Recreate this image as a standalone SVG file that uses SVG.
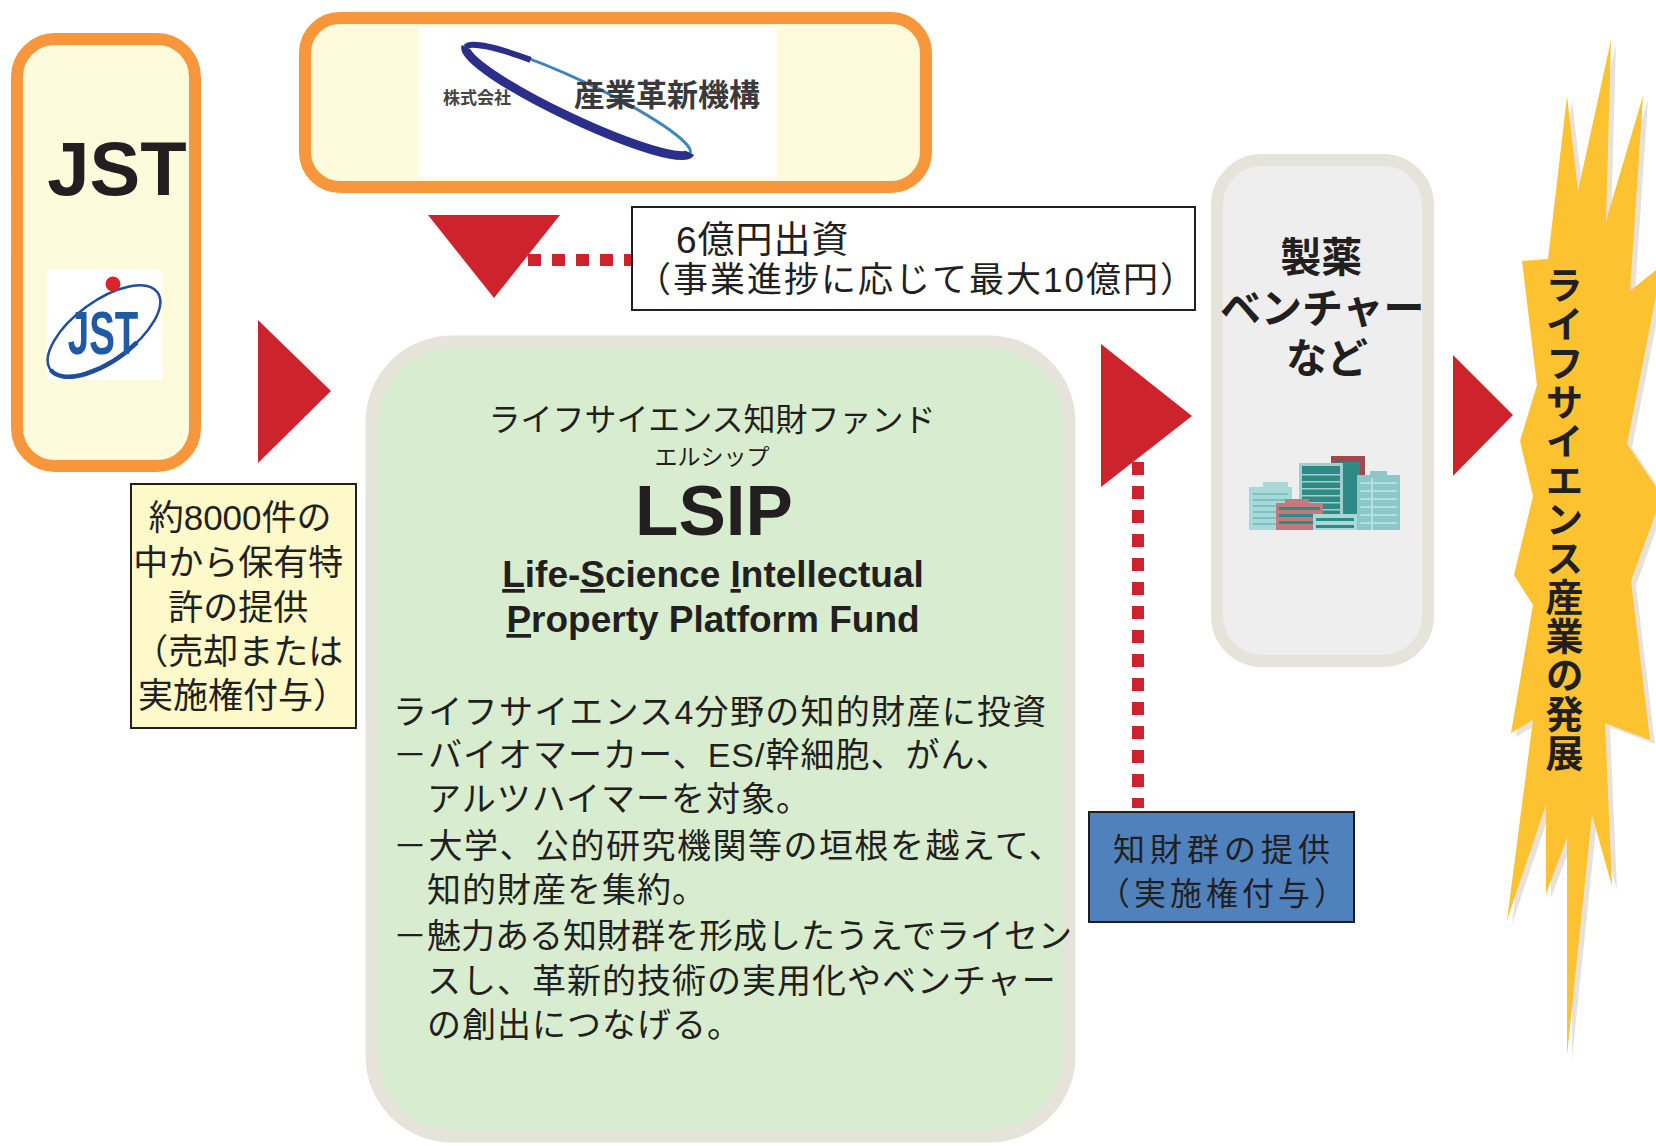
<svg xmlns="http://www.w3.org/2000/svg" width="1656" height="1146" viewBox="0 0 1656 1146">
<defs>
<style>
.jp{font-family:"Liberation Sans","Noto Sans CJK JP",sans-serif;fill:#231f20}
.en{font-family:"Liberation Sans",Arial,sans-serif;fill:#231f20}
.b{font-weight:700}
.mid{text-anchor:middle}
.arrow{fill:#cc232c}
.dots{stroke:#cc232c;stroke-width:12;stroke-dasharray:13 11;fill:none}
.org{fill:#fdfbdb;stroke:#f7963b;stroke-width:12}
.u{text-decoration:underline}
</style>
</defs>
<rect width="1656" height="1146" fill="#ffffff"/>

<!-- connectors: solid red arrowheads and dotted leader lines -->
<g id="connectors">
  <polygon class="arrow" points="258,320 258,463 331,391"/>
  <polygon class="arrow" points="428,215 560,215 494,298"/>
  <line class="dots" x1="528" y1="260" x2="632" y2="260"/>
  <line class="dots" x1="1138" y1="462" x2="1138" y2="808"/>
  <polygon class="arrow" points="1101,344 1101,487 1192,416"/>
  <polygon class="arrow" points="1453,355 1453,476 1513,415"/>
</g>

<!-- JST -->
<g id="jst">
  <rect class="org" x="17" y="39" width="178" height="427" rx="38"/>
  <text class="en b mid" x="117" y="195" font-size="76">JST</text>
  <g id="jst-logo">
    <rect x="47" y="270" width="115" height="110" fill="#ffffff"/>
    <ellipse cx="104" cy="331" rx="66" ry="30" transform="rotate(-36 104 331)" fill="none" stroke="#1f4e9c" stroke-width="2.5"/>
    <path d="M-66 0 A66 30 0 0 0 20 28.6" transform="translate(104 331) rotate(-36)" fill="none" stroke="#1f4e9c" stroke-width="4.5"/>
    <text class="b mid" transform="translate(103 354) scale(0.62 1)" font-family="Liberation Sans,Arial,sans-serif" font-size="62" fill="#1f5aa6">JST</text>
    <circle cx="113" cy="284" r="7.5" fill="#d7262e"/>
  </g>
</g>

<!-- Innovation Network Corporation of Japan -->
<g id="incj">
  <rect class="org" x="305" y="18" width="621" height="169" rx="35"/>
  <rect x="419" y="28" width="358" height="149" fill="#ffffff"/>
  <g transform="translate(578 100) rotate(25.3)">
    <ellipse cx="0" cy="0" rx="124" ry="19" fill="none" stroke="#3f86b8" stroke-width="3"/>
    <path d="M-124 0 A124 19 0 0 0 124 0" fill="none" stroke="#2b2f8a" stroke-width="9"/>
    <path d="M-124 0 A124 19 0 0 1 -60 -16" fill="none" stroke="#2b2f8a" stroke-width="6"/>
  </g>
  <text class="jp b" x="443" y="104" font-size="17" style="fill:#444444">株式会社</text>
  <text class="jp b" x="574" y="106" font-size="31" style="fill:#3a3a3a">産業革新機構</text>
</g>

<!-- investment note -->
<g id="investment">
  <rect x="632" y="207" width="563" height="103" fill="#ffffff" stroke="#231f20" stroke-width="2"/>
  <text class="jp" x="676" y="253" font-size="37" letter-spacing="1">6億円出資</text>
  <text class="jp" x="636" y="292" font-size="35" letter-spacing="2">（事業進捗に応じて最大10億円）</text>
</g>

<!-- patents offered by JST -->
<g id="patents">
  <rect x="131" y="484" width="225" height="244" fill="#fdf9c8" stroke="#231f20" stroke-width="2"/>
  <text class="jp mid" font-size="35">
    <tspan x="245" y="530">約8000件の</tspan>
    <tspan x="243" y="575">中から保有特</tspan>
    <tspan x="243" y="620">許の提供</tspan>
    <tspan x="243" y="664">（売却または</tspan>
    <tspan x="243" y="708">実施権付与）</tspan>
  </text>
</g>

<!-- LSIP fund -->
<g id="lsip">
  <rect x="372" y="342" width="697" height="794" rx="80" fill="#d8edcf" stroke="#e6e3da" stroke-width="13"/>
  <text class="jp mid" x="712" y="431" font-size="32">ライフサイエンス知財ファンド</text>
  <text class="jp mid" x="712" y="465" font-size="23">エルシップ</text>
  <text class="en b mid" x="714" y="535" font-size="71">LSIP</text>
  <text class="en b mid" x="713" y="587" font-size="37"><tspan class="u">L</tspan>ife-<tspan class="u">S</tspan>cience <tspan class="u">I</tspan>ntellectual</text>
  <text class="en b mid" x="713" y="632" font-size="37"><tspan class="u">P</tspan>roperty Platform Fund</text>
  <text class="jp" font-size="34">
    <tspan x="393" y="724" letter-spacing="1.3">ライフサイエンス4分野の知的財産に投資</tspan>
    <tspan x="393" y="767" letter-spacing="1">－バイオマーカー、ES/幹細胞、がん、</tspan>
    <tspan x="427" y="811" letter-spacing="1">アルツハイマーを対象。</tspan>
    <tspan x="393" y="858" letter-spacing="1.5">－大学、公的研究機関等の垣根を越えて、</tspan>
    <tspan x="427" y="902" letter-spacing="1">知的財産を集約。</tspan>
    <tspan x="393" y="948" letter-spacing="0">－魅力ある知財群を形成したうえでライセン</tspan>
    <tspan x="427" y="993" letter-spacing="1">スし、革新的技術の実用化やベンチャー</tspan>
    <tspan x="427" y="1037" letter-spacing="1">の創出につなげる。</tspan>
  </text>
</g>

<!-- licence provision label -->
<g id="licence">
  <rect x="1089" y="812" width="265" height="110" fill="#4f81bd" stroke="#1f1f1f" stroke-width="2"/>
  <text class="jp mid" x="1224" y="861" font-size="32" letter-spacing="5">知財群の提供</text>
  <text class="jp mid" x="1224" y="905" font-size="32" letter-spacing="4">（実施権付与）</text>
</g>

<!-- pharma / ventures -->
<g id="ventures">
  <rect x="1217" y="160" width="211" height="501" rx="45" fill="#eeeeee" stroke="#e6e3da" stroke-width="12"/>
  <text class="jp b mid" font-size="41">
    <tspan x="1327" y="272">製薬</tspan>
    <tspan x="1328" y="323">ベンチャー</tspan>
    <tspan x="1327" y="373">など</tspan>
  </text>
  <g id="buildings">
    <rect x="1331" y="456" width="34" height="62" fill="#a04850"/>
    <rect x="1336" y="462" width="24" height="56" fill="#2e8a85"/>
    <rect x="1263" y="482" width="25" height="6" fill="#a8d8d8"/>
    <rect x="1249" y="487" width="43" height="43" fill="#a8d8d8"/>
    <g fill="#7fc0c0">
      <rect x="1253" y="493" width="35" height="2"/>
      <rect x="1253" y="499" width="35" height="2"/>
      <rect x="1253" y="505" width="35" height="2"/>
      <rect x="1253" y="511" width="35" height="2"/>
      <rect x="1253" y="517" width="35" height="2"/>
      <rect x="1253" y="523" width="35" height="2"/>
    </g>
    <rect x="1299" y="463" width="44" height="67" fill="#9fd0cf"/>
    <rect x="1302" y="466" width="38" height="64" fill="#2e8a85"/>
    <g fill="#9fd0cf">
      <rect x="1302" y="474" width="38" height="1.5"/>
      <rect x="1302" y="481" width="38" height="1.5"/>
      <rect x="1302" y="488" width="38" height="1.5"/>
      <rect x="1302" y="495" width="38" height="1.5"/>
      <rect x="1302" y="502" width="38" height="1.5"/>
      <rect x="1302" y="509" width="38" height="1.5"/>
    </g>
    <rect x="1285" y="499" width="24" height="5" fill="#c07a80"/>
    <rect x="1276" y="503" width="47" height="27" fill="#c07a80"/>
    <g fill="#2e8a85">
      <rect x="1279" y="507" width="41" height="3"/>
      <rect x="1279" y="514" width="41" height="3"/>
      <rect x="1279" y="521" width="41" height="3"/>
    </g>
    <rect x="1370" y="471" width="17" height="5" fill="#8cc8c8"/>
    <rect x="1357" y="475" width="43" height="55" fill="#8cc8c8"/>
    <g fill="#b5dede">
      <rect x="1360" y="482" width="37" height="2"/>
      <rect x="1360" y="490" width="37" height="2"/>
      <rect x="1360" y="498" width="37" height="2"/>
      <rect x="1360" y="506" width="37" height="2"/>
      <rect x="1360" y="514" width="37" height="2"/>
      <rect x="1360" y="522" width="37" height="2"/>
      <rect x="1371" y="478" width="2" height="52"/>
    </g>
    <rect x="1313" y="514" width="44" height="16" fill="#a8d8d8"/>
    <g fill="#2e8a85">
      <rect x="1316" y="518" width="38" height="3"/>
      <rect x="1316" y="525" width="38" height="3"/>
    </g>
  </g>
</g>

<!-- outcome starburst -->
<g id="outcome">
  <polygon transform="translate(5 4)" fill="#e6e2d8" points="1522,261 1548,259 1567,96 1578,191 1611,40 1606,221 1643,96 1630,291 1662,265 1627,444 1662,496 1631,581 1650,740 1605,723 1612,886 1592,815 1567,1055 1567,838 1546,894 1546,805 1507,920 1533,720 1511,733 1533,605 1514,575 1533,496 1520,441 1537,385"/>
  <polygon fill="#fdc22f" points="1522,261 1548,259 1567,96 1578,191 1611,40 1606,221 1643,96 1630,291 1662,265 1627,444 1662,496 1631,581 1650,740 1605,723 1612,886 1592,815 1567,1055 1567,838 1546,894 1546,805 1507,920 1533,720 1511,733 1533,605 1514,575 1533,496 1520,441 1537,385"/>
  <text class="jp b" x="1561" y="266" font-size="38" letter-spacing="1" style="writing-mode:vertical-rl">ライフサイエンス産業の発展</text>
</g>
</svg>
